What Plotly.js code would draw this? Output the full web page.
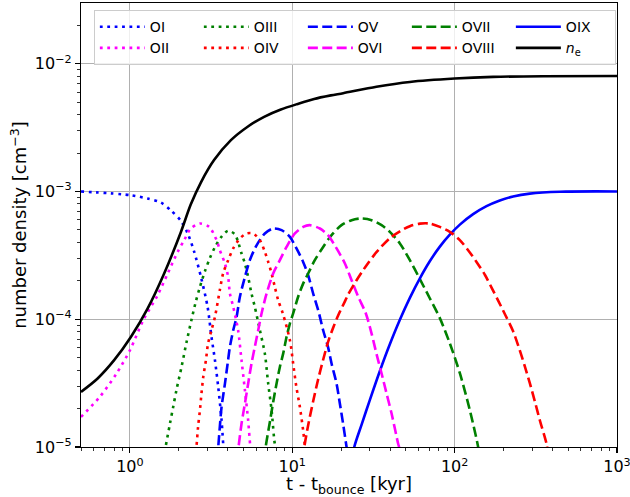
<!DOCTYPE html>
<html>
<head>
<meta charset="utf-8">
<script src="https://cdn.plot.ly/plotly-3.0.1.min.js"></script>
<style>html,body{margin:0;padding:0;background:#fff;}#plot{width:630px;height:497px;}</style>
</head>
<body>
<div id="plot"></div>
<script>
// Time since bounce [kyr] and number densities [cm^-3]
const tOI = [0.5, 1.014, 1.285, 1.55, 1.79, 2.06, 2.27, 2.49, 2.74, 3.01, 3.18, 3.34, 3.50, 3.67, 3.77, 3.85];
const nOI = [1.0e-3, 9.35e-4, 8.8e-4, 8.2e-4, 7.1e-4, 5.9e-4, 4.7e-4, 3.37e-4, 2.14e-4, 1.25e-4, 7.3e-5, 4.8e-5, 2.95e-5, 1.62e-5, 1.0e-5, 8e-6];

const tOII = [0.5, 0.653, 0.828, 1.0, 1.208, 1.48, 1.71, 1.97, 2.16, 2.37, 2.70, 3.08, 3.42, 3.58, 3.85, 4.03, 4.13, 4.33, 4.64, 4.87, 5.11, 5.35, 5.52, 5.65];
const nOII = [1.72e-5, 2.47e-5, 3.76e-5, 5.71e-5, 9.8e-5, 1.54e-4, 2.28e-4, 3.37e-4, 4.16e-4, 5.13e-4, 5.61e-4, 5.28e-4, 4.16e-4, 3.47e-4, 2.73e-4, 2.14e-4, 1.59e-4, 1.25e-4, 8.2e-5, 4.78e-5, 2.78e-5, 1.62e-5, 1.0e-5, 8e-6];

const tOIII = [1.62, 1.66, 1.763, 1.848, 1.94, 2.08, 2.23, 2.40, 2.55, 2.70, 2.90, 3.11, 3.34, 3.67, 4.03, 4.43, 4.64, 4.87, 5.11, 5.35, 5.61, 5.88, 6.32, 6.78, 7.11, 7.46, 7.81, 7.93, 8.05];
const nOIII = [8e-6, 1.0e-5, 1.51e-5, 2.06e-5, 2.83e-5, 4.23e-5, 6.55e-5, 1.0e-4, 1.38e-4, 1.79e-4, 2.38e-4, 3.01e-4, 3.66e-4, 4.43e-4, 4.93e-4, 4.63e-4, 4.03e-4, 3.27e-4, 2.73e-4, 2.14e-4, 1.59e-4, 1.25e-4, 8.2e-5, 5.38e-5, 3.13e-5, 1.94e-5, 1.06e-5, 1.0e-5, 8e-6];

const tOIV = [2.52, 2.57, 2.63, 2.70, 2.76, 2.83, 2.94, 3.03, 3.18, 3.34, 3.58, 3.75, 4.03, 4.33, 4.76, 5.23, 5.74, 6.32, 6.78, 7.11, 7.46, 7.81, 8.19, 8.75, 9.67, 10.13, 10.6, 11.14, 11.67, 11.96, 12.3];
const nOIV = [8e-6, 1.0e-5, 1.44e-5, 1.94e-5, 2.62e-5, 3.53e-5, 4.78e-5, 6.45e-5, 8.2e-5, 1.04e-4, 1.69e-4, 2.28e-4, 2.90e-4, 3.58e-4, 4.29e-4, 4.69e-4, 4.69e-4, 4.16e-4, 3.37e-4, 2.81e-4, 2.28e-4, 1.79e-4, 1.41e-4, 1.11e-4, 6.86e-5, 4.5e-5, 2.95e-5, 2.06e-5, 1.35e-5, 1.03e-5, 8e-6];

const tOV = [3.43, 3.50, 3.58, 3.67, 3.85, 4.00, 4.13, 4.33, 4.54, 4.76, 5.11, 5.48, 6.03, 6.78, 7.63, 8.59, 9.67, 10.6, 11.67, 12.53, 13.45, 14.44, 15.5, 16.6, 17.46, 18.75, 19.64, 20.57, 21.6, 22.2];
const nOV = [8e-6, 1.0e-5, 1.44e-5, 2.06e-5, 3.13e-5, 4.5e-5, 6.07e-5, 8.2e-5, 1.04e-4, 1.50e-4, 2.14e-4, 2.90e-4, 3.79e-4, 4.69e-4, 5.13e-4, 4.98e-4, 4.41e-4, 3.60e-4, 2.81e-4, 2.21e-4, 1.59e-4, 1.18e-4, 8.2e-5, 6.07e-5, 4.5e-5, 3.13e-5, 2.19e-5, 1.52e-5, 1.0e-5, 8e-6];

const tOVI = [4.6, 4.67, 4.87, 5.11, 5.35, 5.61, 5.88, 6.17, 6.47, 6.95, 7.63, 8.39, 9.22, 10.38, 11.67, 12.8, 14.8, 16.6, 18.75, 21.1, 23.2, 25.5, 28.4, 30.8, 33.0, 35.5, 38.1, 40.9, 44.9, 45.5, 46.5];
const nOVI = [8e-6, 1.0e-5, 1.52e-5, 2.19e-5, 3.13e-5, 4.5e-5, 6.07e-5, 8.2e-5, 1.11e-4, 1.59e-4, 2.28e-4, 2.90e-4, 3.68e-4, 4.69e-4, 5.28e-4, 5.45e-4, 5.13e-4, 4.55e-4, 3.58e-4, 2.73e-4, 2.02e-4, 1.50e-4, 1.11e-4, 7.72e-5, 5.38e-5, 3.76e-5, 2.62e-5, 1.83e-5, 1.06e-5, 1.0e-5, 8e-6];

const tOVII = [6.75, 6.86, 7.28, 7.63, 8.0, 8.39, 8.79, 9.22, 9.67, 10.13, 10.87, 11.67, 12.53, 13.77, 15.5, 17.46, 20.1, 23.2, 26.7, 30.8, 35.5, 39.9, 46.0, 53.0, 61.1, 70.3, 81.1, 93.4, 107.7, 124.1, 139.6, 143];
const nOVII = [8e-6, 1.0e-5, 1.57e-5, 2.25e-5, 3.13e-5, 4.23e-5, 5.38e-5, 7.26e-5, 9.25e-5, 1.11e-4, 1.50e-4, 1.90e-4, 2.28e-4, 2.90e-4, 3.68e-4, 4.55e-4, 5.45e-4, 5.96e-4, 6.15e-4, 5.96e-4, 5.45e-4, 4.83e-4, 3.92e-4, 2.90e-4, 2.06e-4, 1.46e-4, 1.02e-4, 6.48e-5, 3.78e-5, 1.94e-5, 1.0e-5, 8e-6];

const tOVIII = [11.7, 11.87, 12.53, 13.45, 14.44, 15.5, 16.6, 17.86, 19.17, 21.1, 22.1, 24.9, 28.7, 33.0, 39.9, 46.0, 53.0, 61.1, 70.3, 81.1, 93.4, 107.7, 121.1, 136.4, 153.5, 168.8, 185.4, 206.6, 229.2, 252, 270.6, 290.5, 311.8, 334.7, 368, 380];
const nOVIII = [8e-6, 1.0e-5, 1.48e-5, 2.28e-5, 3.39e-5, 4.82e-5, 6.61e-5, 8.58e-5, 1.07e-4, 1.38e-4, 1.56e-4, 2.02e-4, 2.65e-4, 3.35e-4, 4.31e-4, 4.88e-4, 5.35e-4, 5.60e-4, 5.61e-4, 5.28e-4, 4.83e-4, 4.16e-4, 3.47e-4, 2.81e-4, 2.23e-4, 1.77e-4, 1.40e-4, 1.06e-4, 8.05e-5, 5.71e-5, 4.28e-5, 3.16e-5, 2.28e-5, 1.62e-5, 1.06e-5, 8e-6];

const tOIX = [23.5, 24.1, 26.8, 30.0, 34.6, 39.9, 46.0, 53.0, 61.1, 70.3, 81.1, 93.4, 107.7, 130.0, 157.2, 189.8, 229.2, 290.5, 444, 1000];
const nOIX = [8e-6, 1.0e-5, 1.51e-5, 2.32e-5, 3.92e-5, 6.37e-5, 9.91e-5, 1.47e-4, 2.09e-4, 2.84e-4, 3.70e-4, 4.59e-4, 5.50e-4, 6.64e-4, 7.67e-4, 8.50e-4, 9.14e-4, 9.62e-4, 9.95e-4, 1.0e-3];

const tNe = [0.5, 0.633, 0.800, 1.014, 1.285, 1.626, 2.06, 2.37, 2.74, 3.30, 4.19, 5.31, 6.71, 8.51, 10.78, 13.64, 17.29, 20.6, 33.0, 53.0, 100, 172.6, 351, 1000];
const nNe = [2.70e-5, 3.44e-5, 4.78e-5, 7.26e-5, 1.21e-4, 2.28e-4, 4.8e-4, 7.9e-4, 1.18e-3, 1.76e-3, 2.52e-3, 3.21e-3, 3.84e-3, 4.38e-3, 4.84e-3, 5.30e-3, 5.65e-3, 5.88e-3, 6.6e-3, 7.2e-3, 7.65e-3, 7.88e-3, 7.98e-3, 8.0e-3];

const xTickVals = [1, 10, 100, 1000];
const xTickText = ['10<sup>0</sup>', '10<sup>1</sup>', '10<sup>2</sup>', '10<sup>3</sup>'];
const yTickVals = [1e-5, 1e-4, 1e-3, 1e-2];
const yTickText = ['10<sup>\u22125</sup>', '10<sup>\u22124</sup>', '10<sup>\u22123</sup>', '10<sup>\u22122</sup>'];

const DOT = '2.8px,4.6px';
const DASH = '10px,4.4px';
const LW = 2.6;

function mk(x, y, name, color, dash) {
  return {x: x, y: y, name: name, type: 'scatter', mode: 'lines',
          line: {color: color, width: LW, dash: dash, shape: 'spline', smoothing: 0.8}};
}

// order chosen so the horizontal legend reads column-wise like the reference
const traces = [
  mk(tOI, nOI, 'OI', '#0000ff', DOT),
  mk(tOIII, nOIII, 'OIII', '#008000', DOT),
  mk(tOV, nOV, 'OV', '#0000ff', DASH),
  mk(tOVII, nOVII, 'OVII', '#008000', DASH),
  mk(tOIX, nOIX, 'OIX', '#0000ff', 'solid'),
  mk(tOII, nOII, 'OII', '#ff00ff', DOT),
  mk(tOIV, nOIV, 'OIV', '#ff0000', DOT),
  mk(tOVI, nOVI, 'OVI', '#ff00ff', DASH),
  mk(tOVIII, nOVIII, 'OVIII', '#ff0000', DASH),
  mk(tNe, nNe, '<i>n</i><sub>e</sub>', '#000000', 'solid')
];

function minorList(decades, lo, hi) {
  const out = [];
  decades.forEach(d => { for (let k = 2; k <= 9; k++) { const v = k * d; if (v >= lo && v <= hi) out.push(v); } });
  return out;
}
const xMinor = minorList([0.1, 1, 10, 100], 0.5, 1000);
const yMinor = minorList([1e-5, 1e-4, 1e-3, 1e-2], 1e-5, 0.029);

const FAM = 'DejaVu Sans, sans-serif';
const tickFont = {family: FAM, size: 16, color: '#000'};
const titleFont = {family: FAM, size: 18, color: '#000'};
const legFont = {family: FAM, size: 14, color: '#000'};

const layout = {
  width: 630, height: 497,
  margin: {l: 81, r: 13, t: 3, b: 50},
  paper_bgcolor: '#fff', plot_bgcolor: '#fff',
  font: tickFont,
  showlegend: true,
  xaxis: {
    type: 'log', range: [Math.log10(0.5), 3],
    tickvals: xTickVals, ticktext: xTickText, ticklabeloverflow: 'allow',
    ticks: 'outside', ticklen: 5, tickwidth: 1.1, tickcolor: '#000',
    showgrid: true, gridcolor: '#b0b0b0', gridwidth: 1,
    showline: true, linecolor: '#000', linewidth: 1.1, mirror: true,
    zeroline: false, tickfont: tickFont,
    minor: {tickmode: 'array', tickvals: xMinor, ticks: 'outside', ticklen: 3, tickwidth: 0.8, tickcolor: '#000', showgrid: false},
    title: {text: 't - t<sub>bounce</sub> [kyr]', font: titleFont, standoff: 7}
  },
  yaxis: {
    type: 'log', range: [-5, -1.525],
    tickvals: yTickVals, ticktext: yTickText,
    ticks: 'outside', ticklen: 5, tickwidth: 1.1, tickcolor: '#000',
    showgrid: true, gridcolor: '#b0b0b0', gridwidth: 1,
    showline: true, linecolor: '#000', linewidth: 1.1, mirror: true,
    zeroline: false, tickfont: tickFont,
    minor: {tickmode: 'array', tickvals: yMinor, ticks: 'outside', ticklen: 3, tickwidth: 0.8, tickcolor: '#000', showgrid: false},
    title: {text: 'number density [cm<sup>\u22123</sup>]', font: titleFont, standoff: 3}
  },
  legend: {
    orientation: 'h', x: 0.024, y: 0.984, xanchor: 'left', yanchor: 'top',
    bgcolor: 'rgba(255,255,255,0.8)', bordercolor: '#cccccc', borderwidth: 1,
    font: legFont, entrywidth: 44, entrywidthmode: 'pixels', itemwidth: 45,
    tracegroupgap: 0
  }
};

Plotly.newPlot('plot', traces, layout, {staticPlot: true, displayModeBar: false});
</script>
</body>
</html>
